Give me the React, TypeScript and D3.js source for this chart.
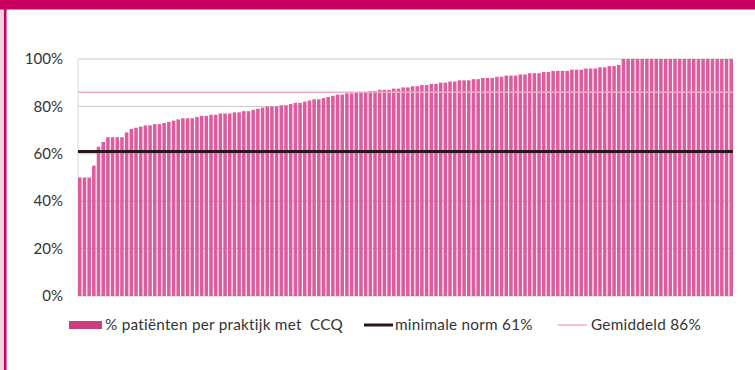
import React from "react";
import * as d3 from "d3";

const values: number[] = [
  50, 50, 50, 55, 63, 65, 67, 67, 67, 67,
  69, 70.5, 71, 71.5, 72, 72, 72.5, 72.5, 73, 73.5,
  74, 74.5, 75, 75, 75, 75.5, 76, 76, 76.5, 76.5,
  77, 77, 77, 77.5, 77.5, 78, 78, 78.5, 79, 79.5,
  80, 80, 80, 80.5, 80.5, 81, 81.5, 81.5, 82, 82.5,
  83, 83, 83.5, 84, 84.5, 85, 85, 85.5, 85.5, 86,
  86, 86, 86.5, 86.5, 87, 87, 87, 87.5, 87.5, 88,
  88, 88.5, 88.5, 89, 89, 89.5, 89.5, 90, 90, 90.5,
  90.5, 91, 91, 91, 91.5, 91.5, 92, 92, 92, 92.5,
  92.5, 93, 93, 93, 93.5, 93.5, 94, 94, 94, 94.5,
  94.5, 95, 95, 95, 95, 95.5, 95.5, 95.5, 96, 96,
  96, 96.5, 96.5, 97, 97, 97.5, 100, 100, 100, 100,
  100, 100, 100, 100, 100, 100, 100, 100, 100, 100,
  100, 100, 100, 100, 100, 100, 100, 100, 100, 100,
];
const yTicks: number[] = [0, 20, 40, 60, 80, 100];
const normValue = 61;
const meanValue = 86;
const legendLabels: string[] = [
  "% patiënten per praktijk met  CCQ",
  "minimale norm 61%",
  "Gemiddeld 86%",
];

const W = 755;
const H = 370;
const left = 78;
const right = 733;
const top = 59;
const bottom = 296;
const font = "Lato, 'Open Sans', sans-serif";
const fs = 15;
const legFs = 15.3;
const legY = 325;

export default function App() {
  const x = d3
    .scaleBand<number>()
    .domain(values.map((_, i) => i))
    .range([left, right])
    .paddingInner(0.24)
    .paddingOuter(0);
  const y = d3.scaleLinear().domain([0, 100]).range([bottom, top]);

  return (
    <svg
      width={W}
      height={H}
      style={{ position: "absolute", left: 0, top: 0, display: "block", background: "#fff" }}
    >
      <rect x={0} y={0} width={W} height={H} fill="#fff" />
      {/* frame */}
      <rect x={0} y={0} width={5} height={H} fill="#f3d3e2" />
      <rect x={4} y={0} width={2.5} height={H} fill="#c8005f" />
      <rect x={0} y={0} width={W} height={9.5} fill="#c8005f" />

      {/* gridlines */}
      {yTicks.map((t) => (
        <line
          key={t}
          x1={left}
          x2={right}
          y1={y(t)}
          y2={y(t)}
          stroke="#c9c9c9"
          strokeWidth={1}
        />
      ))}
      <line x1={left} x2={left} y1={top} y2={bottom} stroke="#d8d8d8" strokeWidth={1} />

      {/* bars */}
      {values.map((v, i) => (
        <rect
          key={i}
          x={x(i)}
          y={y(v)}
          width={x.bandwidth()}
          height={y(0) - y(v)}
          fill="#db5d9e"
        />
      ))}

      {/* norm line */}
      <line
        x1={left}
        x2={right}
        y1={y(normValue)}
        y2={y(normValue)}
        stroke="#2a1520"
        strokeWidth={3}
      />
      {/* mean line */}
      <line
        x1={left}
        x2={right}
        y1={y(meanValue)}
        y2={y(meanValue)}
        stroke="#f5a9c8"
        strokeWidth={1.5}
      />

      {/* y tick labels */}
      {yTicks.map((t) => (
        <text
          key={t}
          x={63}
          y={y(t)}
          dy="0.35em"
          textAnchor="end"
          fontFamily={font}
          fontSize={fs}
          fill="#333"
        >
          {t}%
        </text>
      ))}

      {/* legend */}
      <g fontFamily={font} fontSize={legFs} fill="#333" letterSpacing={0.25}>
        <rect x={69} y={legY - 4} width={33} height={8} fill="#c8417e" />
        <text x={105} y={legY} dy="0.35em" style={{ whiteSpace: "pre" }}>
          {legendLabels[0]}
        </text>
        <line x1={364} x2={393} y1={legY} y2={legY} stroke="#2a1520" strokeWidth={3} />
        <text x={395} y={legY} dy="0.35em">{legendLabels[1]}</text>
        <line x1={558} x2={587} y1={legY} y2={legY} stroke="#f5a9c8" strokeWidth={1.5} />
        <text x={591} y={legY} dy="0.35em">{legendLabels[2]}</text>
      </g>
    </svg>
  );
}
